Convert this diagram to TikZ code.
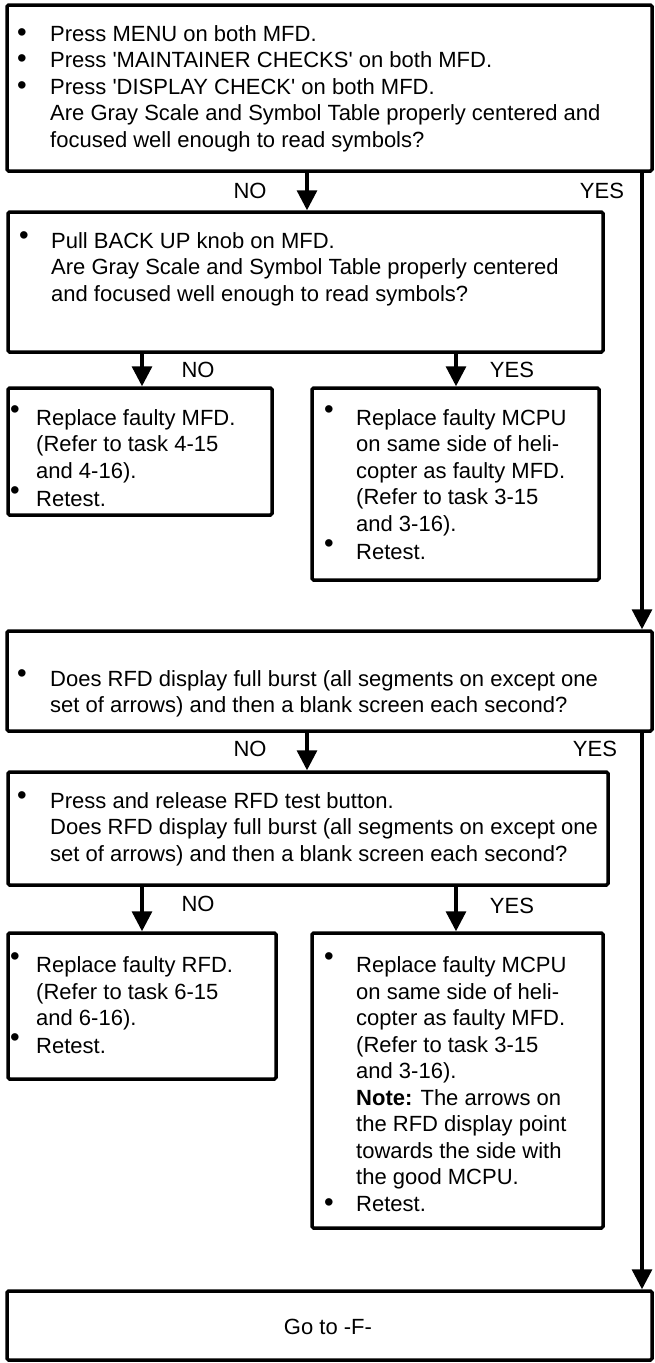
\documentclass[tikz,border=0pt]{standalone}
\usepackage{fontspec}
\setmainfont{Liberation Sans}[Ligatures=TeXOff]
\usetikzlibrary{arrows.meta}
\newcommand\bul{\scalebox{1.25}{\textbullet}}
\newcommand\rbul{\raisebox{7pt}{\scalebox{1.25}{\textbullet}}}
\newcommand\mbul{\raisebox{3.5pt}{\scalebox{1.25}{\textbullet}}}
\begin{document}
\begin{tikzpicture}[x=1pt,y=-1pt,
  box/.style={draw, line width=3.5pt, rounded corners=1.5pt, inner sep=0pt},
  arr/.style={line width=3.3pt, -{Triangle[length=20pt,width=20pt]}},
  lab/.style={inner sep=0pt, font=\fontsize{22}{26.5}\selectfont},
  txt/.style={anchor=north west, inner sep=0pt, font=\fontsize{22}{26.5}\selectfont}]
\useasboundingbox (0,0) rectangle (654,1363);
% boxes
\node[box, minimum width=645pt, minimum height=166pt] (b1) at (329.5,88) {};
\node[box, minimum width=595pt, minimum height=140pt] (b2) at (305.5,282) {};
\node[box, minimum width=264pt, minimum height=127pt] (b3l) at (140,451.5) {};
\node[box, minimum width=287pt, minimum height=192pt] (b3r) at (455.5,484) {};
\node[box, minimum width=645pt, minimum height=100pt] (b4) at (329.5,681) {};
\node[box, minimum width=600pt, minimum height=113pt] (b5) at (308,828.5) {};
\node[box, minimum width=268pt, minimum height=146pt] (b6l) at (142,1006) {};
\node[box, minimum width=291pt, minimum height=295pt] (b6r) at (457.5,1080.5) {};
\node[box, minimum width=645pt, minimum height=69pt] (b7) at (329.5,1325.5) {};
% texts
\node[txt] (t1) at (17,22.45) {\begin{tabular}{@{}p{33pt}@{}l@{}}
\bul & Press MENU on both MFD.\\
\bul & Press 'MAINTAINER CHECKS' on both MFD.\\
\bul & Press 'DISPLAY CHECK' on both MFD.\\
 & Are Gray Scale and Symbol Table properly centered and\\
 & focused well enough to read symbols?
\end{tabular}};
\node[txt] (t2) at (19,229.45) {\begin{tabular}{@{}p{32pt}@{}l@{}}
\mbul & Pull BACK UP knob on MFD.\\
 & Are Gray Scale and Symbol Table properly centered\\
 & and focused well enough to read symbols?
\end{tabular}};
\node[txt] (t3l) at (10,405.45) {\begin{tabular}{@{}p{26pt}@{}l@{}}
\rbul & Replace faulty MFD.\\
 & (Refer to task 4-15\\
 & and 4-16).\\
\rbul & Retest.
\end{tabular}};
\node[txt] (t3r) at (324,405.45) {\begin{tabular}{@{}p{32pt}@{}l@{}}
\rbul & Replace faulty MCPU\\
 & on same side of heli-\\
 & copter as faulty MFD.\\
 & (Refer to task 3-15\\
 & and 3-16).\\
\rbul & Retest.
\end{tabular}};
\node[txt] (t4) at (17,667.45) {\begin{tabular}{@{}p{33pt}@{}l@{}}
\mbul & Does RFD display full burst (all segments on except one\\
 & set of arrows) and then a blank screen each second?
\end{tabular}};
\node[txt] (t5) at (17,789.45) {\begin{tabular}{@{}p{33pt}@{}l@{}}
\mbul & Press and release RFD test button.\\
 & Does RFD display full burst (all segments on except one\\
 & set of arrows) and then a blank screen each second?
\end{tabular}};
\node[txt] (t6l) at (10,952.45) {\begin{tabular}{@{}p{26pt}@{}l@{}}
\rbul & Replace faulty RFD.\\
 & (Refer to task 6-15\\
 & and 6-16).\\
\rbul & Retest.
\end{tabular}};
\node[txt] (t6r) at (324,952.45) {\begin{tabular}{@{}p{32pt}@{}l@{}}
\rbul & Replace faulty MCPU\\
 & on same side of heli-\\
 & copter as faulty MFD.\\
 & (Refer to task 3-15\\
 & and 3-16).\\
 & \textbf{Note:} The arrows on\\
 & the RFD display point\\
 & towards the side with\\
 & the good MCPU.\\
\bul & Retest.
\end{tabular}};
\node[lab] (t7) at (328,1327) {Go to -F-};
% column coordinates
\coordinate (xm) at (307,0);
\coordinate (xl) at (142,0);
\coordinate (xr) at (456,0);
\coordinate (xy) at (642,0);
% connectors
\draw[arr] (b1.south -| xm) -- (b2.north -| xm);
\draw[arr] (b1.south -| xy) -- (b4.north -| xy);
\draw[arr] (b2.south -| xl) -- (b3l.north -| xl);
\draw[arr] (b2.south -| xr) -- (b3r.north -| xr);
\draw[arr] (b4.south -| xm) -- (b5.north -| xm);
\draw[arr] (b4.south -| xy) -- (b7.north -| xy);
\draw[arr] (b5.south -| xl) -- (b6l.north -| xl);
\draw[arr] (b5.south -| xr) -- (b6r.north -| xr);
% labels
\node[lab] (n1) at (250,191) {NO};
\node[lab] (y1) at (602,191) {YES};
\node[lab] (n2) at (198,370) {NO};
\node[lab] (y2) at (512,370) {YES};
\node[lab] (n4) at (250,749) {NO};
\node[lab] (y4) at (595,749) {YES};
\node[lab] (n5) at (198,904) {NO};
\node[lab] (y5) at (512,906) {YES};
\end{tikzpicture}
\end{document}
